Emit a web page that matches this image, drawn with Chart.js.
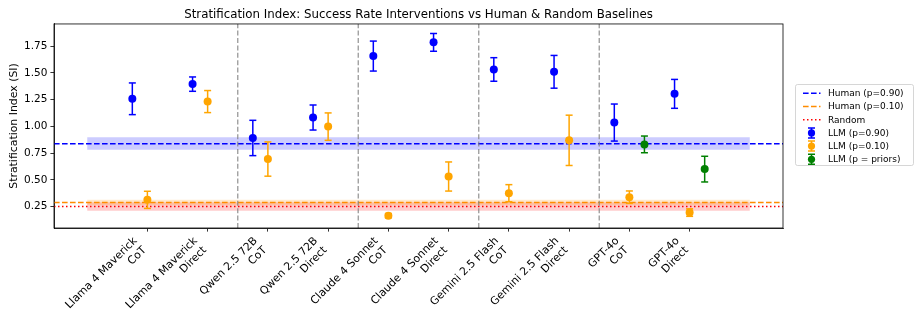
<!DOCTYPE html>
<html>
<head>
<meta charset="utf-8">
<script src="https://cdn.jsdelivr.net/npm/chart.js@4"></script>
<style>
  html, body { margin: 0; padding: 0; background: #fff; }
  canvas { display: block; }
</style>
</head>
<body>
<canvas id="chart" width="917" height="328"></canvas>
<script>
// data
const categories = [
  'Llama 4 Maverick\nCoT', 'Llama 4 Maverick\nDirect',
  'Qwen 2.5 72B\nCoT', 'Qwen 2.5 72B\nDirect',
  'Claude 4 Sonnet\nCoT', 'Claude 4 Sonnet\nDirect',
  'Gemini 2.5 Flash\nCoT', 'Gemini 2.5 Flash\nDirect',
  'GPT-4o\nCoT', 'GPT-4o\nDirect'
];
const yTicks = [0.25, 0.50, 0.75, 1.00, 1.25, 1.50, 1.75];

const llmHigh    = [1.257, 1.394, 0.891, 1.082, 1.656, 1.784, 1.531, 1.509, 1.035, 1.303];
const llmHighErr = [0.148, 0.067, 0.165, 0.117, 0.140, 0.083, 0.110, 0.153, 0.173, 0.135];
const llmLow     = [0.313, 1.231, 0.694, 0.997, 0.165, 0.531, 0.375, 0.869, 0.338, 0.194];
const llmLowErr  = [0.080, 0.103, 0.160, 0.128, 0.020, 0.136, 0.080, 0.235, 0.058, 0.035];
const llmPriors    = [null, null, null, null, null, null, null, null, 0.831, 0.600];
const llmPriorsErr = [null, null, null, null, null, null, null, null, 0.078, 0.120];

const humanHigh = 0.838;
const humanHighBand = [0.782, 0.897];
const humanLow = 0.288;
const humanLowBand = [0.262, 0.314];
const randomLevel = 0.25;
const randomBand = [0.212, 0.29];

// layout / style
const FONT = 'DejaVu Sans';
const X_MIN = -1.55, X_MAX = 10.55, Y_MIN = 0.05, Y_MAX = 1.956;
const OFF_HIGH = -0.25, OFF_LOW = 0, OFF_PRIORS = 0.25;
const BLUE = '#0000ff', ORANGE = '#ffa500', GREEN = '#008000', RED = '#ff0000', DARKORANGE = '#ff8c00';
const DASH = [5.6, 2.4];
const DOT = [1.5, 2.5];

function points(values, dx) {
  return values.map((v, i) => ({ x: i + dx, y: v })).filter(p => p.y !== null);
}

function errorSegments(values, errs, dx) {
  const out = [];
  values.forEach((v, i) => {
    if (v === null) return;
    out.push({ x: i + dx, y: v - errs[i] }, { x: i + dx, y: v + errs[i] }, { x: i + dx, y: null });
  });
  return out;
}

function band(range, color) {
  return {
    type: 'line', order: 10,
    data: [{ x: -1, y: range[1] }, { x: categories.length, y: range[1] }],
    fill: { value: range[0] }, backgroundColor: color,
    borderWidth: 0, pointRadius: 0, showLine: true
  };
}

function hline(y, color, dash, order) {
  return {
    type: 'line', order,
    data: [{ x: X_MIN, y }, { x: X_MAX, y }],
    borderColor: color, borderWidth: 1.5, borderDash: dash,
    pointRadius: 0, fill: false, showLine: true
  };
}

function errorbars(values, errs, dx, color) {
  return {
    type: 'line', order: 1,
    data: errorSegments(values, errs, dx),
    borderColor: color, borderWidth: 1.5, spanGaps: false, showLine: true, fill: false,
    pointStyle: 'line', pointRadius: 3.5, pointBorderWidth: 1.5, pointBorderColor: color
  };
}

function markers(values, dx, color) {
  return {
    type: 'scatter', order: 0,
    data: points(values, dx),
    pointRadius: 4, backgroundColor: color, borderColor: color, borderWidth: 0
  };
}

// group separators between model pairs
const separators = [];
for (let g = 1; g < categories.length / 2; g++) {
  const x = 2 * g - 0.5;
  separators.push({ x, y: Y_MIN }, { x, y: Y_MAX }, { x, y: null });
}

const legendItems = [
  { label: 'Human (p=0.90)', kind: 'line', color: BLUE, dash: DASH },
  { label: 'Human (p=0.10)', kind: 'line', color: DARKORANGE, dash: DASH },
  { label: 'Random', kind: 'line', color: RED, dash: DOT },
  { label: 'LLM (p=0.90)', kind: 'err', color: BLUE },
  { label: 'LLM (p=0.10)', kind: 'err', color: ORANGE },
  { label: 'LLM (p = priors)', kind: 'err', color: GREEN }
];

const legendBox = {
  id: 'legendBox',
  afterDraw(chart) {
    const ctx = chart.ctx;
    const x0 = 795, y0 = 84, w = 118, h = 81, rowH = 13.2, firstRow = 93.3;
    ctx.save();
    ctx.fillStyle = 'rgba(255,255,255,0.8)';
    ctx.strokeStyle = '#cccccc';
    ctx.lineWidth = 0.8;
    ctx.beginPath();
    ctx.roundRect(x0 + 0.5, y0 + 0.5, w, h, 2);
    ctx.fill();
    ctx.stroke();
    ctx.font = '9px "' + FONT + '"';
    ctx.textBaseline = 'middle';
    ctx.textAlign = 'left';
    legendItems.forEach((it, i) => {
      const y = firstRow + i * rowH;
      const hx0 = 803, hx1 = 820.5, cx = 811.5;
      ctx.strokeStyle = it.color;
      ctx.fillStyle = it.color;
      ctx.lineWidth = 1.5;
      if (it.kind === 'line') {
        ctx.setLineDash(it.dash);
        ctx.beginPath();
        ctx.moveTo(hx0, y);
        ctx.lineTo(hx1, y);
        ctx.stroke();
        ctx.setLineDash([]);
      } else {
        ctx.beginPath();
        ctx.moveTo(cx, y - 5); ctx.lineTo(cx, y + 5);
        ctx.moveTo(cx - 3.5, y - 5); ctx.lineTo(cx + 3.5, y - 5);
        ctx.moveTo(cx - 3.5, y + 5); ctx.lineTo(cx + 3.5, y + 5);
        ctx.stroke();
        ctx.beginPath();
        ctx.arc(cx, y, 3.6, 0, Math.PI * 2);
        ctx.fill();
      }
      ctx.fillStyle = '#000';
      ctx.fillText(it.label, 828, y + 0.5);
    });
    ctx.restore();
  }
};

const frame = {
  id: 'frame',
  afterDatasetsDraw(chart) {
    const { ctx, chartArea: a } = chart;
    ctx.save();
    ctx.strokeStyle = '#000';
    ctx.lineWidth = 0.8;
    ctx.strokeRect(a.left, a.top, a.right - a.left, a.bottom - a.top);
    ctx.restore();
  }
};

new Chart(document.getElementById('chart'), {
  type: 'scatter',
  data: {
    datasets: [
      band(humanHighBand, 'rgba(0,0,255,0.2)'),
      band(humanLowBand, 'rgba(255,140,0,0.2)'),
      band(randomBand, 'rgba(255,0,0,0.2)'),
      hline(humanHigh, BLUE, DASH, 5),
      hline(humanLow, DARKORANGE, DASH, 5),
      hline(randomLevel, RED, DOT, 5),
      {
        type: 'line', order: 4, data: separators,
        borderColor: 'rgba(128,128,128,0.8)', borderWidth: 1.3, borderDash: [5, 2.4],
        spanGaps: false, pointRadius: 0, fill: false, showLine: true
      },
      errorbars(llmHigh, llmHighErr, OFF_HIGH, BLUE),
      markers(llmHigh, OFF_HIGH, BLUE),
      errorbars(llmLow, llmLowErr, OFF_LOW, ORANGE),
      markers(llmLow, OFF_LOW, ORANGE),
      errorbars(llmPriors, llmPriorsErr, OFF_PRIORS, GREEN),
      markers(llmPriors, OFF_PRIORS, GREEN)
    ]
  },
  options: {
    responsive: false,
    animation: false,
    events: [],
    layout: { padding: { left: 0, right: 134, top: 0, bottom: 0 } },
    plugins: {
      legend: { display: false },
      tooltip: { enabled: false },
      title: {
        display: true, fullSize: false,
        text: 'Stratification Index: Success Rate Interventions vs Human & Random Baselines',
        color: '#000', font: { family: FONT, size: 11.8, weight: 'normal' },
        padding: { top: 8, bottom: 1.8 }
      }
    },
    scales: {
      x: {
        type: 'linear', min: X_MIN, max: X_MAX,
        afterBuildTicks: s => { s.ticks = categories.map((c, i) => ({ value: i })); },
        afterFit: s => { s.height = 100; },
        ticks: {
          callback: v => categories[v].split('\n'),
          autoSkip: false, minRotation: 45, maxRotation: 45,
          labelOffset: -12, padding: 3,
          color: '#000', font: { family: FONT, size: 10.9 }
        },
        grid: { display: true, drawOnChartArea: false, tickLength: 3.6, color: '#000', lineWidth: 0.8 },
        border: { display: true, color: '#000', width: 0.8 }
      },
      y: {
        min: Y_MIN, max: Y_MAX,
        afterBuildTicks: s => { s.ticks = yTicks.map(v => ({ value: v })); },
        afterFit: s => { s.width = 54; },
        ticks: {
          callback: v => v.toFixed(2), padding: 3,
          color: '#000', font: { family: FONT, size: 10.5 }
        },
        title: {
          display: true, text: 'Stratification Index (SI)',
          color: '#000', font: { family: FONT, size: 10.9 },
          padding: { top: 7.5, bottom: 0 }
        },
        grid: { display: true, drawOnChartArea: false, tickLength: 3.6, color: '#000', lineWidth: 0.8 },
        border: { display: true, color: '#000', width: 0.8 }
      }
    }
  },
  plugins: [frame, legendBox]
});
</script>
</body>
</html>
